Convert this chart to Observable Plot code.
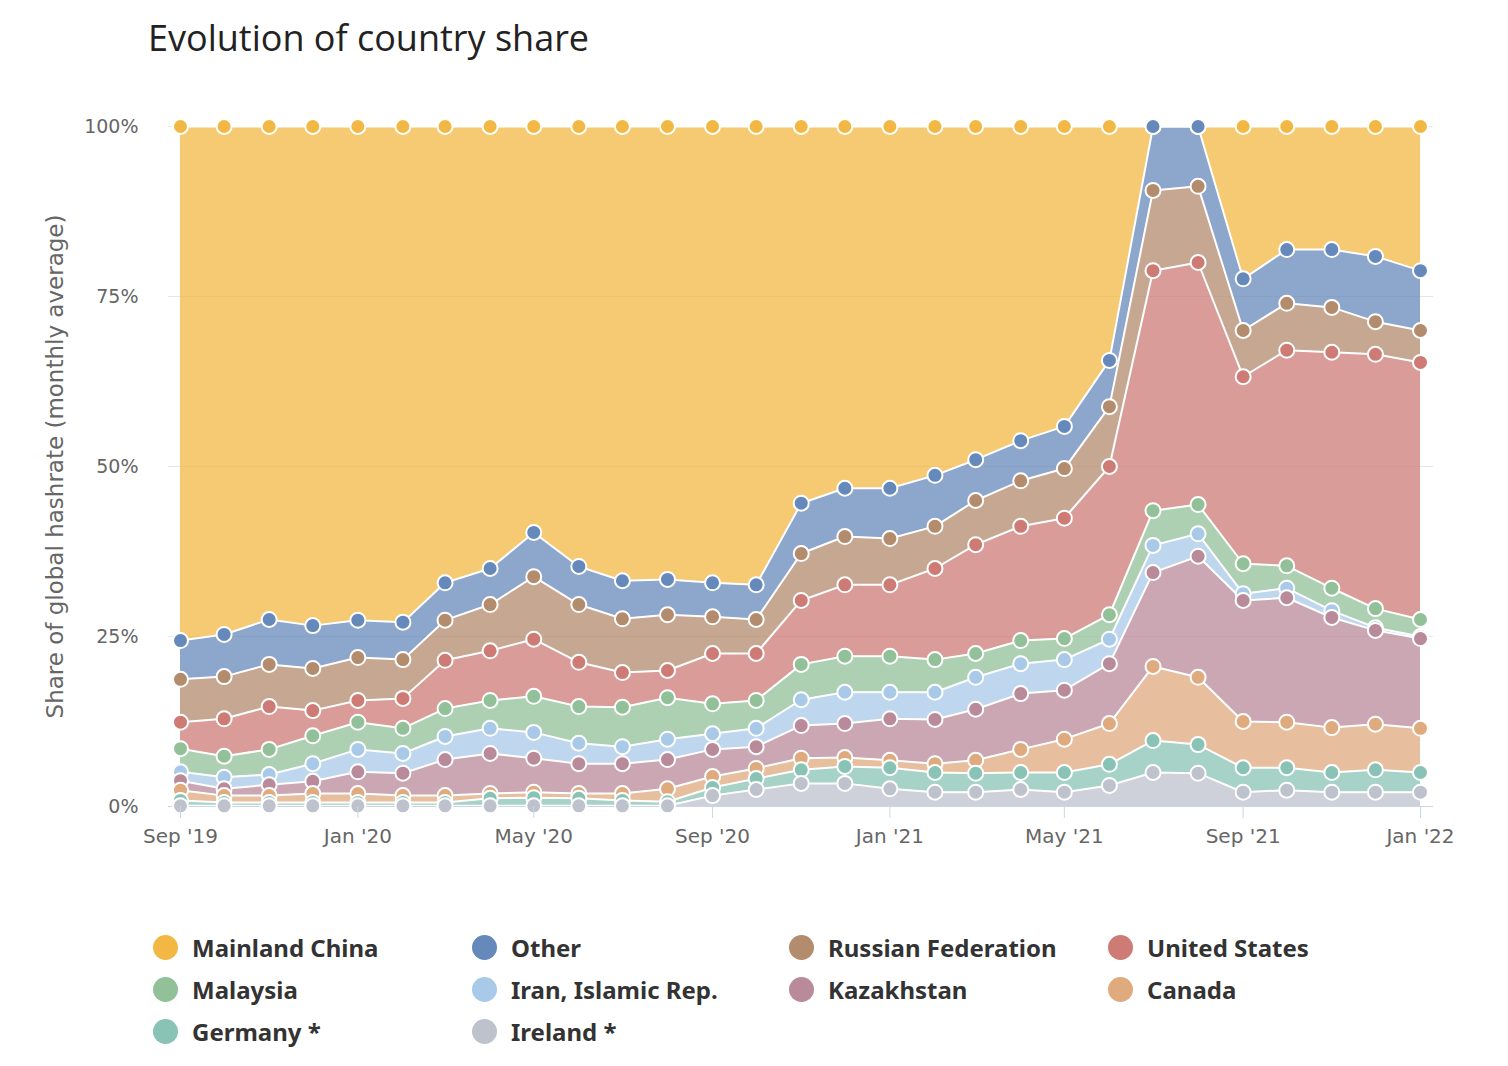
<!DOCTYPE html>
<html>
<head>
<meta charset="utf-8">
<script src="https://cdn.jsdelivr.net/npm/d3@7"></script>
<script src="https://cdn.jsdelivr.net/npm/@observablehq/plot@0.6"></script>
<style>
  html, body { margin: 0; padding: 0; background: #fff; }
  body { width: 1508px; height: 1066px; position: relative; overflow: hidden; }
  #title { position: absolute; left: 148px; top: 20px; font-family: "Open Sans", sans-serif; font-size: 36px; line-height: 36px; color: #222; white-space: nowrap; }
  #chart { position: absolute; left: 0; top: 0; }
  #legend { position: absolute; left: 153px; top: 926px; display: grid; grid-template-columns: 319px 317px 319px 320px; }
  .item { display: flex; align-items: center; height: 42px; font-family: "Noto Sans", sans-serif; font-weight: 700; font-size: 24px; color: #333; white-space: nowrap; }
  .sw { width: 25px; height: 25px; border-radius: 50%; margin-right: 14px; flex: none; }
</style>
</head>
<body>
<div id="title">Evolution of country share</div>
<div id="chart"></div>
<div id="legend"></div>
<script>
// Months (first of each month, monthly averages)
const months = ["2019-09-01","2019-10-01","2019-11-01","2019-12-01","2020-01-01","2020-02-01","2020-03-01","2020-04-01","2020-05-01","2020-06-01","2020-07-01","2020-08-01","2020-09-01","2020-10-01","2020-11-01","2020-12-01","2021-01-01","2021-02-01","2021-03-01","2021-04-01","2021-05-01","2021-06-01","2021-07-01","2021-08-01","2021-09-01","2021-10-01","2021-11-01","2021-12-01","2022-01-01"];

// Country shares (% of global hashrate)
const china      = [75.6,74.7,72.5,73.4,72.6,72.9,67.1,65.0,59.7,64.7,66.8,66.6,67.1,67.4,55.4,53.2,53.2,51.3,49.0,46.2,44.1,34.4,0,0,22.4,18.1,18.1,19.1,21.2];
const other      = [5.7,6.2,6.6,6.3,5.5,5.5,5.5,5.3,6.5,5.6,5.6,5.2,5.0,5.1,7.4,7.1,7.4,7.5,6.0,5.9,6.2,6.8,9.4,8.8,7.6,7.9,8.5,9.6,8.8];
const russia     = [6.3,6.2,6.2,6.2,6.3,5.7,5.9,6.8,9.2,8.5,7.9,8.2,5.4,5.0,6.9,7.1,6.8,6.2,6.5,6.7,7.3,8.8,11.8,11.2,6.8,6.9,6.6,4.8,4.7];
const us         = [3.9,5.5,6.3,3.7,3.2,4.4,7.1,7.3,8.4,6.5,5.1,4.0,7.4,6.9,9.4,10.5,10.5,13.4,16.0,16.8,17.7,21.8,35.3,35.6,27.5,31.7,34.7,37.4,37.8];
const malaysia   = [3.4,3.1,3.7,4.1,4.0,3.7,4.1,4.1,5.3,5.4,5.8,6.1,4.4,4.1,5.2,5.3,5.3,4.8,3.5,3.4,3.1,3.6,5.1,4.3,4.4,3.3,3.3,2.8,2.5];
const iran       = [1.3,1.7,1.5,2.6,3.3,2.9,3.4,3.7,3.8,3.0,2.5,3.0,2.3,2.7,3.8,4.6,3.9,4.0,4.7,4.4,4.5,3.6,4.0,3.3,1.0,1.4,1.0,0.4,0.3];
const kazakhstan = [1.4,1.0,1.6,1.8,3.2,3.3,5.3,5.9,5.0,4.4,4.4,4.3,4.0,3.2,4.8,5.0,6.1,6.5,7.5,8.2,7.2,8.8,13.8,17.8,17.8,18.3,16.2,13.8,13.2];
const canada     = [1.5,1.0,1.0,1.3,1.3,1.0,1.0,0.7,0.8,0.7,1.0,1.9,1.6,1.5,1.7,1.3,1.1,1.3,1.9,3.4,4.9,6.0,10.9,9.9,6.8,6.7,6.6,6.7,6.5];
const germany    = [0.8,0.5,0.5,0.5,0.5,0.5,0.5,1.1,1.2,1.1,0.8,0.6,1.2,1.6,2.0,2.5,3.1,2.9,2.8,2.5,2.9,3.1,4.7,4.2,3.6,3.3,2.9,3.3,2.9];
const ireland    = [0.1,0.1,0.1,0.1,0.1,0.1,0.1,0.1,0.1,0.1,0.1,0.1,1.6,2.5,3.4,3.4,2.6,2.1,2.1,2.5,2.1,3.1,5.0,4.9,2.1,2.4,2.1,2.1,2.1];

const countries = ["Mainland China","Other","Russian Federation","United States","Malaysia","Iran, Islamic Rep.","Kazakhstan","Canada","Germany *","Ireland *"];
const colors    = ["#f2b843","#6589ba","#b38b6d","#ce7b75","#91c099","#a8cae8","#b98a9a","#dfaa7e","#88c3b6","#bec2cc"];
const seriesValues = [china, other, russia, us, malaysia, iran, kazakhstan, canada, germany, ireland];

const yTicks = [0, 25, 50, 75, 100];
const xTickDates = ["2019-09-01","2020-01-01","2020-05-01","2020-09-01","2021-01-01","2021-05-01","2021-09-01","2022-01-01"];
const yLabel = "Share of global hashrate (monthly average)";

const rows = [];
countries.forEach((c, i) => seriesValues[i].forEach((v, j) => rows.push({date: new Date(months[j]), country: c, value: v})));
const stackOrder = countries.slice().reverse(); // bottom to top

const chart = Plot.plot({
  width: 1508,
  height: 870,
  marginLeft: 168,
  marginRight: 75,
  marginTop: 126,
  marginBottom: 64,
  style: {fontFamily: "'DejaVu Sans', sans-serif", background: "transparent", overflow: "visible"},
  x: {type: "utc", domain: [new Date(months[0]), new Date(months[months.length - 1])], insetLeft: 12, insetRight: 13},
  y: {domain: [0, 100]},
  color: {domain: countries, range: colors},
  marks: [
    Plot.ruleY(yTicks.slice(1), {stroke: "#e6e6e6", strokeWidth: 1}),
    Plot.areaY(rows, {x: "date", y: "value", z: "country", fill: "country", fillOpacity: 0.75, order: stackOrder}),
    Plot.line(rows, Plot.stackY2({x: "date", y: "value", z: "country", order: stackOrder, stroke: "white", strokeWidth: 2})),
    Plot.ruleY([0], {stroke: "#ccd6eb", strokeWidth: 1}),
    Plot.dot(rows, Plot.stackY2({x: "date", y: "value", z: "country", order: stackOrder, fill: "country", stroke: "white", strokeWidth: 2, r: 7.5})),
    Plot.axisY({ticks: yTicks, tickFormat: d => d + "%", tickSize: 0, tickPadding: 30, fill: "#666", fontSize: 19, label: null}),
    Plot.axisX({ticks: xTickDates.map(d => new Date(d)), tickFormat: d3.utcFormat("%b '%y"), tickSize: 12, tickPadding: 10, stroke: "#ccd6eb", fill: "#666", fontSize: 20, label: null}),
    Plot.text([yLabel], {frameAnchor: "left", textAnchor: "middle", dx: -113, rotate: -90, fontSize: 23, fill: "#666"})
  ]
});
document.getElementById("chart").appendChild(chart);

const legend = document.getElementById("legend");
countries.forEach((c, i) => {
  const item = document.createElement("div");
  item.className = "item";
  const sw = document.createElement("span");
  sw.className = "sw";
  sw.style.background = colors[i];
  const label = document.createElement("span");
  label.textContent = c;
  item.appendChild(sw);
  item.appendChild(label);
  legend.appendChild(item);
});
</script>
</body>
</html>
